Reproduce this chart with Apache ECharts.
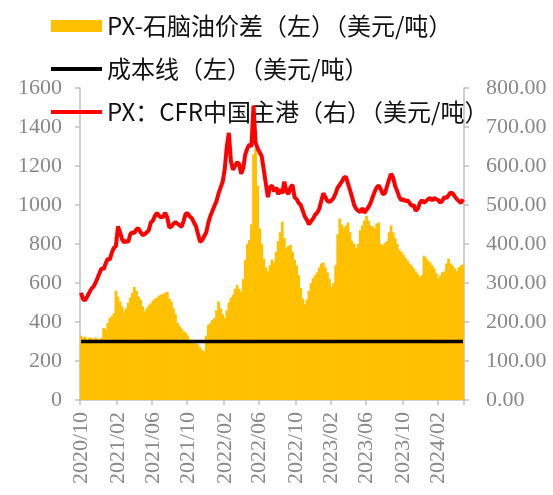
<!DOCTYPE html>
<html>
<head>
<meta charset="utf-8">
<script src="https://cdn.jsdelivr.net/npm/echarts@6/dist/echarts.min.js"></script>
<style>html,body{margin:0;padding:0;background:#fff;}#c{width:553px;height:495px;}</style>
</head>
<body>
<div id="c"></div>
<script>
// Weekly categories starting 2020/10/02
const startDate = '2020-10-02';
const weekCount = 187;
const weeks = [];
(function(){
  const d0 = new Date(startDate + 'T00:00:00Z');
  for (let i = 0; i < weekCount; i++) {
    const d = new Date(d0.getTime() + i * 7 * 86400000);
    const m = String(d.getUTCMonth() + 1).padStart(2, '0');
    const dd = String(d.getUTCDate()).padStart(2, '0');
    weeks.push(d.getUTCFullYear() + '/' + m + '/' + dd);
  }
})();

const labelMonths = ['02', '06', '10'];

// PX-石脑油价差 (left axis, USD/t)
const spread = [
 330,320,325,310,320,318,312,320,315,310,
 318,370,360,395,420,430,445,560,530,505,
 480,455,470,500,525,550,580,560,530,515,
 480,455,470,485,495,510,520,525,535,540,
 545,550,555,520,505,470,440,395,380,365,
 352,345,330,310,300,295,290,285,270,255,
 250,330,385,395,410,420,460,505,470,440,
 420,460,500,525,540,570,590,570,555,620,
 720,800,820,900,1260,1290,1100,880,800,725,
 680,660,690,720,705,760,815,860,915,830,
 780,790,795,760,720,690,640,575,520,490,
 515,560,600,625,640,655,680,700,705,680,
 655,620,580,600,690,850,930,900,880,895,
 910,860,815,800,780,800,870,895,920,945,
 920,895,890,880,905,910,800,795,805,815,
 860,895,860,830,800,770,760,745,730,715,
 700,690,675,660,645,630,640,740,730,715,
 705,690,675,650,625,640,655,660,700,725,
 700,690,675,660,680,690,695
];

// PX: CFR中国主港 (right axis, USD/t)
const pxPrice = [
 275,258,256,265,275,285,290,300,312,325,
 338,335,350,362,360,378,390,395,445,430,
 412,404,408,405,425,430,428,438,440,430,
 423,425,430,435,455,460,472,480,472,468,
 470,480,468,442,445,452,456,452,448,444,
 460,478,478,470,466,455,445,425,405,410,
 420,430,455,472,485,498,510,530,545,560,
 592,650,685,612,590,600,610,605,580,595,
 630,645,655,650,755,660,645,635,625,590,
 555,520,545,550,535,545,528,540,530,560,
 535,528,545,552,520,515,505,500,485,470,
 462,450,458,465,475,480,490,510,530,520,
 510,508,512,518,530,545,552,560,570,572,
 555,538,520,500,490,485,482,492,480,488,
 495,505,520,534,545,550,540,528,530,548,
 565,580,570,548,535,520,512,515,510,512,
 505,498,500,485,490,505,512,506,510,515,
 518,512,518,515,512,506,512,520,518,525,
 532,530,522,515,510,505,515
];

// 成本线 (left axis, USD/t)
const costValue = 300;

const leftTicks = {min: 0, max: 1600, interval: 200};
const rightTicks = {min: 0, max: 800, interval: 100};

const names = ['PX-石脑油价差（左）（美元/吨）', '成本线（左）（美元/吨）', 'PX：CFR中国主港（右）（美元/吨）'];

function isLabelIdx(index) {
  const m = weeks[index].slice(5, 7);
  if (labelMonths.indexOf(m) < 0) return false;
  if (index === 0) return true;
  return weeks[index - 1].slice(5, 7) !== m;
}

const axisGray = '#bfbfbf';
const labelGray = '#888888';
const serif = '"Liberation Serif","Times New Roman",serif';
// thin horizontal line icon (4px thick inside a 51x12 box)
const lineIcon = 'path://M0,4H51V8H0Z M0,0H0.01V0.01H0Z M50.99,11.99H51V12H50.99Z';

const chart = echarts.init(document.getElementById('c'), null, {renderer: 'canvas'});
chart.setOption({
  animation: false,
  backgroundColor: '#fff',
  grid: {left: 80, right: 89, top: 88, bottom: 95, containLabel: false},
  legend: {
    orient: 'vertical',
    left: 46,
    top: 8,
    itemWidth: 51,
    itemHeight: 12,
    itemGap: 17,
    textStyle: {fontFamily: '"Noto Sans CJK SC", sans-serif', fontSize: 24, color: '#111', lineHeight: 26},
    data: [
      {name: names[0], icon: 'rect'},
      {name: names[1], icon: lineIcon},
      {name: names[2], icon: lineIcon}
    ]
  },
  xAxis: {
    type: 'category',
    data: weeks,
    boundaryGap: true,
    axisLine: {show: true, lineStyle: {color: axisGray, width: 1.5}},
    axisTick: {show: true, length: 5, interval: (i) => isLabelIdx(i), lineStyle: {color: axisGray, width: 1.5}},
    axisLabel: {
      interval: (i) => isLabelIdx(i),
      rotate: 90,
      margin: 12,
      color: labelGray,
      fontFamily: serif,
      fontSize: 22,
      formatter: (v) => v.slice(0, 7)
    },
    splitLine: {show: false}
  },
  yAxis: [
    {
      type: 'value',
      min: leftTicks.min, max: leftTicks.max, interval: leftTicks.interval,
      axisLine: {show: true, lineStyle: {color: axisGray, width: 1.5}},
      axisTick: {show: true, length: 5, lineStyle: {color: axisGray, width: 1.5}},
      axisLabel: {color: labelGray, fontFamily: serif, fontSize: 22, margin: 18, formatter: (v) => String(v)},
      splitLine: {show: false}
    },
    {
      type: 'value',
      position: 'right',
      min: rightTicks.min, max: rightTicks.max, interval: rightTicks.interval,
      axisLine: {show: true, lineStyle: {color: axisGray, width: 1.5}},
      axisTick: {show: true, length: 5, lineStyle: {color: axisGray, width: 1.5}},
      axisLabel: {color: labelGray, fontFamily: serif, fontSize: 22, margin: 22, formatter: (v) => v.toFixed(2)},
      splitLine: {show: false}
    }
  ],
  series: [
    {
      name: names[0],
      type: 'bar',
      yAxisIndex: 0,
      data: spread,
      barWidth: 2.8,
      barGap: '-100%',
      itemStyle: {color: '#FFC000'},
      z: 1
    },
    {
      name: names[1],
      type: 'line',
      yAxisIndex: 0,
      data: [[weeks[0], costValue], [weeks[weeks.length - 1], costValue]],
      showSymbol: false,
      symbol: 'none',
      lineStyle: {color: '#000', width: 3.5},
      itemStyle: {color: '#000'},
      z: 3
    },
    {
      name: names[2],
      type: 'line',
      yAxisIndex: 1,
      data: pxPrice,
      showSymbol: false,
      symbol: 'none',
      lineStyle: {color: '#FF0000', width: 4},
      itemStyle: {color: '#FF0000'},
      z: 4
    }
  ]
});
</script>
</body>
</html>
